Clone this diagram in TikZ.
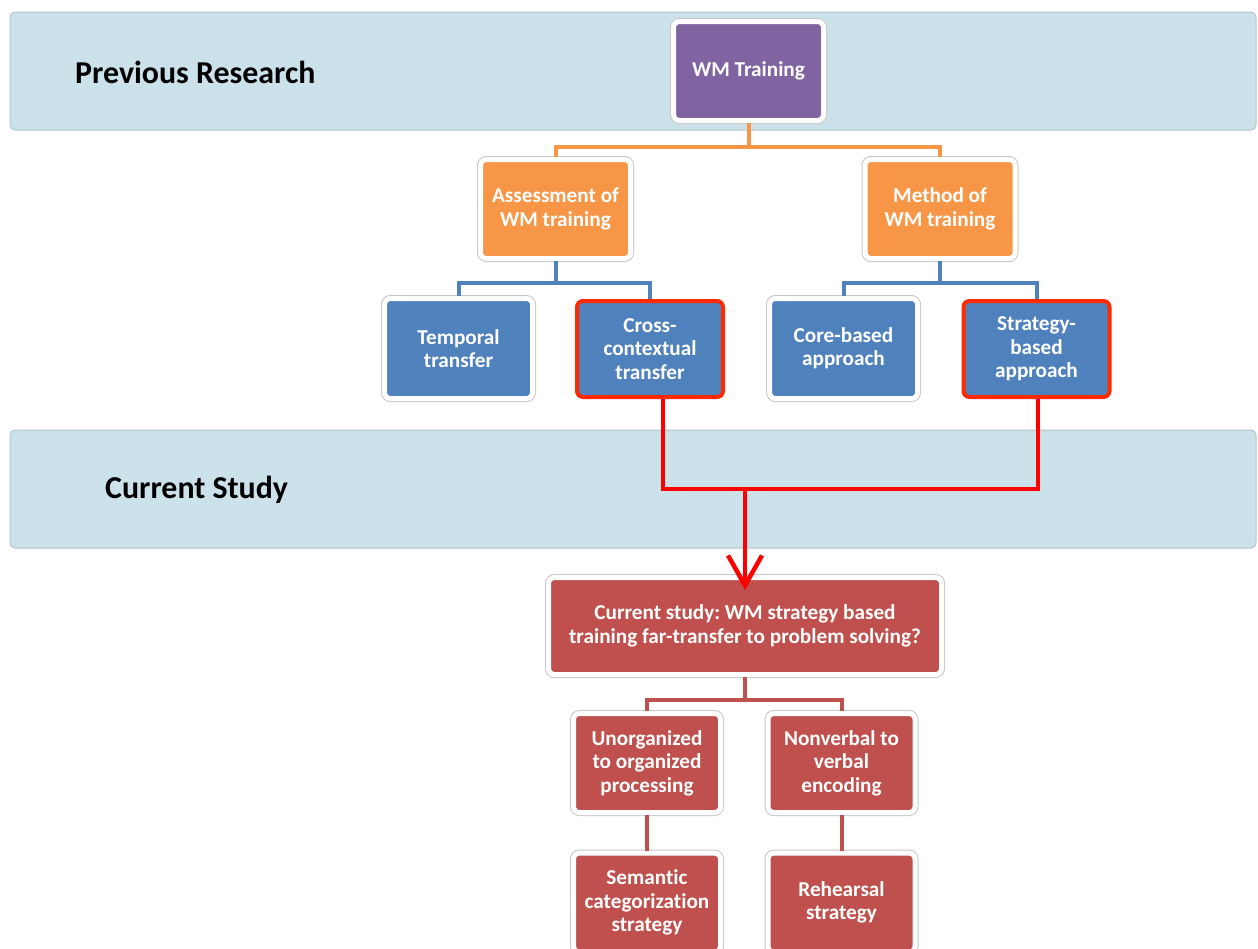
\documentclass[tikz,border=0pt]{standalone}
\usepackage{fontspec}
\setmainfont{Carlito}[Ligatures=NoCommon]
\frenchspacing
\usetikzlibrary{arrows.meta}
\definecolor{bandfill}{HTML}{CCE2EB}
\definecolor{banddraw}{HTML}{B4C3CC}
\definecolor{wmpurple}{HTML}{8064A2}
\definecolor{wmorange}{HTML}{F79646}
\definecolor{wmblue}{HTML}{4F81BD}
\definecolor{wmred}{HTML}{C0504D}
\definecolor{hotred}{HTML}{FF2A00}
\tikzset{
  band/.style={fill=bandfill,draw=banddraw,line width=1bp,rounded corners=5bp},
  bandlabel/.style={font=\bfseries\fontsize{32}{36}\selectfont,text=black,inner sep=0pt},
  box/.style={rounded corners=6bp,text=white,align=center,inner sep=0pt,
    font=\bfseries\fontsize{21.3}{23.5}\selectfont,
    preaction={draw=black!22,line width=7bp},draw=white,line width=5bp},
  purplebox/.style={box,fill=wmpurple,minimum width=150bp,minimum height=99bp},
  orangebox/.style={box,fill=wmorange,minimum width=150bp,minimum height=99bp},
  bluebox/.style={box,fill=wmblue,minimum width=148bp,minimum height=100bp},
  pickbox/.style={rounded corners=6bp,text=white,align=center,inner sep=0pt,
    font=\bfseries\fontsize{21.3}{23.5}\selectfont,
    fill=wmblue,draw=hotred,line width=4bp,minimum width=146bp,minimum height=96bp},
  redbox/.style={box,fill=wmred,minimum width=147bp,minimum height=99bp},
  orangeedge/.style={draw=wmorange,line width=4bp},
  blueedge/.style={draw=wmblue,line width=4bp},
  rededge/.style={draw=wmred,line width=4bp},
  pickedge/.style={draw=red,line width=4.5bp},
}
\begin{document}
\begin{tikzpicture}[x=1bp,y=-1bp,line join=miter]
\useasboundingbox (0,0) rectangle (1258,949);
\clip (0,0) rectangle (1258,949);
%% bands
\draw[band] (10,12) rectangle (1256,130);
\node[bandlabel,anchor=west] (prevlabel) at (75,72) {Previous Research};
\draw[band] (10,430) rectangle (1256,548);
\node[bandlabel,anchor=west] (curlabel) at (105,490) {Current Study};
%% edges first, boxes on top
\coordinate (wmjoin) at (748.5,147);
\coordinate (assjoin) at (555.5,283);
\coordinate (methjoin) at (940,283);
\coordinate (pickjoin) at (745,489);
\coordinate (curjoin) at (745,700);
% Node: WM Training
\node[purplebox] (wm) at (748.5,71) {WM Training};
% Node: Assessment
\node[orangebox] (assess) at (555.5,209) {Assessment of\\WM training};
% Node: Method
\node[orangebox] (method) at (940,209) {Method of\\WM training};
% Node: Temporal
\node[bluebox] (temporal) at (458.5,348.5) {Temporal\\transfer};
% Node: Cross
\node[pickbox] (cross) at (650,349) {Cross-\\contextual\\transfer};
% Node: Core
\node[bluebox] (core) at (843.5,348.5) {Core-based\\approach};
% Node: Strategy
\node[pickbox] (strategy) at (1036.5,349) {Strategy-\\based\\approach};
% Node: Current study
\node[redbox,minimum width=393bp,minimum height=97bp] (current) at (745,626)
  {Current study: WM strategy based\\training far-transfer to problem solving?};
% Node: Unorganized
\node[redbox] (unorg) at (647,763) {Unorganized\\to organized\\processing};
% Node: Nonverbal
\node[redbox] (nonverbal) at (841.5,763) {Nonverbal to\\verbal\\encoding};
% Node: Semantic
\node[redbox] (semantic) at (647,902.5) {Semantic\\categorization\\strategy};
% Node: Rehearsal
\node[redbox] (rehearsal) at (841.5,902.5) {Rehearsal\\strategy};
%% connectors
% Edge: wm -> assess, method
\draw[orangeedge] (wm.south) -- (wmjoin) -| (assess.north);
\draw[orangeedge] (wmjoin) -| (method.north);
% Edge: assess -> temporal, cross
\draw[blueedge] (assess.south) -- (assjoin) -| (temporal.north);
\draw[blueedge] (assjoin) -| (cross.north);
% Edge: method -> core, strategy
\draw[blueedge] (method.south) -- (methjoin) -| (core.north);
\draw[blueedge] (methjoin) -| (strategy.north);
% Edge: cross, strategy -> current
\draw[pickedge] ([xshift=13bp]cross.south) |- (pickjoin) -| ([xshift=1.5bp]strategy.south);
\draw[pickedge,-{Straight Barb[length=30bp,width=34bp,line width=4.5bp]},shorten >=-15bp] (pickjoin) -- (current.north);
% Edge: current -> unorg, nonverbal
\draw[rededge] (current.south) -- (curjoin) -| (unorg.north);
\draw[rededge] (curjoin) -| (nonverbal.north);
% Edge: unorg -> semantic, nonverbal -> rehearsal
\draw[rededge] (unorg.south) -- (semantic.north);
\draw[rededge] (nonverbal.south) -- (rehearsal.north);
\end{tikzpicture}
\end{document}
